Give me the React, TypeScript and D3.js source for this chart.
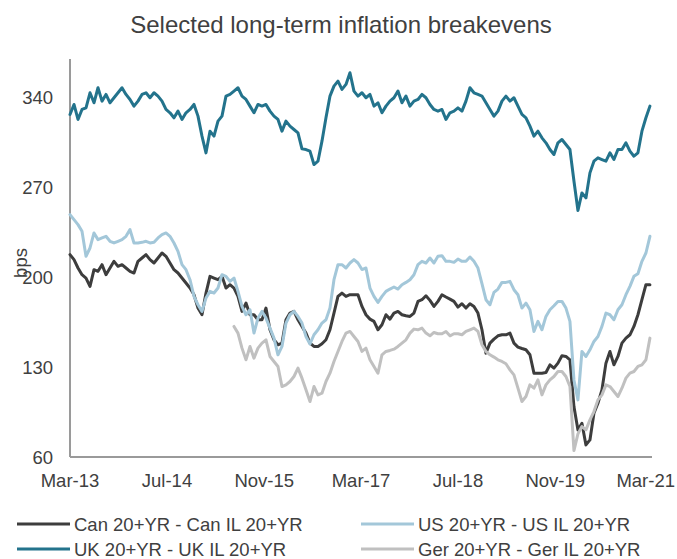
import React from 'react';
import * as d3 from 'd3';

const START = new Date(2013, 2, 1);
const END = new Date(2021, 2, 1);
const STEP_DAYS = 20.08;
const GER_START_INDEX = 41;

const xTickLabels = ['Mar-13', 'Jul-14', 'Nov-15', 'Mar-17', 'Jul-18', 'Nov-19', 'Mar-21'];
const xTickDates = [
  new Date(2013, 2, 1), new Date(2014, 6, 1), new Date(2015, 10, 1), new Date(2017, 2, 1),
  new Date(2018, 6, 1), new Date(2019, 10, 1), new Date(2021, 2, 1),
];
const yTicks = [60, 130, 200, 270, 340];

const canValues = [
  217.6, 213.7, 207.2, 202, 199.4, 192.9, 205.9, 204.6, 209.8, 202,
  207.2, 212.4, 208.5, 209.8, 207.2, 204.6, 203.3, 212.4, 215, 217.6,
  213.7, 211.1, 215, 218.9, 216.3, 211.1, 205.9, 203.3, 199.4, 195.5,
  191.6, 186.4, 176, 170.8, 187.7, 200.7, 199.4, 198.1, 200.7, 191.6,
  194.2, 191.6, 185.1, 173.4, 179.9, 170.8, 170.8, 166.9, 166.9, 176,
  159.1, 151.3, 147.4, 148.7, 166.9, 172.1, 173.4, 166.9, 161.7, 156.5,
  148.7, 146.1, 146.1, 148.2, 151.3, 159.1, 172.1, 185.1, 187.7, 185.1,
  186.4, 186.4, 186.4, 177.3, 170.8, 167.4, 165.6, 159.1, 163, 170.8,
  167.4, 172.1, 173.4, 170.8, 170, 169.5, 172.1, 181.2, 182.5, 185.6,
  182, 177.3, 181.2, 186.4, 184.6, 183, 181.2, 176.8, 179.4, 176,
  179.4, 177.3, 172.1, 159.1, 140.9, 148.7, 151.8, 154.4, 155.2, 155.2,
  156.5, 148.7, 145.6, 144.5, 143.5, 139.6, 125.3, 125.3, 125.3, 125.8,
  131.8, 129.2, 133.1, 138.8, 138.3, 135.7, 99.3, 81.1, 86.3, 69.4,
  73.3, 94.1, 101.9, 112.3, 133.1, 142.2, 131.8, 138.3, 148.7, 152.6,
  155.2, 161.7, 170.8, 182.5, 194.2, 194.2,
];

const ukValues = [
  326.8, 334.6, 322.9, 330.7, 332, 343.7, 335.9, 347.6, 337.2, 342.4,
  335.9, 339.8, 343.7, 347.6, 342.4, 338.5, 333.3, 337.2, 342.4, 343.7,
  339.8, 343.7, 341.1, 337.2, 330.7, 328.1, 324.2, 329.4, 322.9, 328.1,
  330.7, 334.6, 325.5, 309.9, 296.9, 313.8, 309.9, 321.6, 325.5, 341.1,
  342.4, 345, 347.6, 341.1, 338.5, 333.3, 328.1, 334.6, 333.3, 334.6,
  329.4, 325.5, 322.9, 313.8, 321.6, 317.7, 315.1, 312.5, 300, 299.5,
  298.2, 287.8, 290.4, 306, 324.2, 341.1, 348.9, 352.8, 346.3, 350.2,
  359.3, 345, 341.1, 343.7, 339.8, 342.4, 333.3, 335.9, 328.1, 333.3,
  337.2, 339.8, 345, 335.9, 341.1, 333.3, 337.2, 338.5, 342.4, 339.8,
  334.6, 330.7, 329.4, 330.7, 322.9, 328.1, 329.4, 332, 329.4, 337.2,
  347.6, 343.7, 342.4, 341.1, 335.9, 330.7, 325.5, 329.4, 337.2, 341.1,
  337.2, 339.8, 333.3, 326.8, 324.2, 317.7, 309.9, 313.8, 308.6, 304.7,
  299.5, 295.6, 304.7, 307.3, 303.4, 299.5, 275, 252, 265.7, 261.8,
  281.3, 290.4, 293, 291.7, 290.4, 296.9, 291.7, 299.5, 299.5, 304.7,
  298.2, 294.3, 296.9, 313.8, 324.2, 333.3,
];

const usValues = [
  248.8, 244.9, 241, 235.8, 216.3, 222.8, 234.5, 229.3, 230.6, 231.9,
  228, 226.7, 228, 229.3, 231.9, 237.1, 226.7, 226.7, 227.2, 228,
  226.7, 227.2, 230.6, 233.2, 234.5, 231.9, 226.7, 220.2, 209.8, 205.9,
  198.1, 185.1, 178.6, 173.4, 183.8, 189, 187.7, 191.6, 202, 200.7,
  196.8, 199.4, 189, 177.3, 170.8, 174.7, 156.5, 168.2, 173.4, 168.2,
  160.4, 152.6, 139.6, 146.1, 164.3, 170.8, 173.4, 169.5, 164.3, 153.9,
  148, 155.2, 159.1, 164.3, 166.9, 176, 198.1, 209.8, 209.8, 207.2,
  211.1, 213.7, 211.1, 206, 207.2, 191.6, 185.1, 180.4, 185.1, 189,
  190.8, 192.4, 190.8, 194.2, 196, 198.1, 202, 209.8, 212.4, 211.1,
  215, 211.1, 216.3, 216.8, 212.4, 212.4, 211.6, 214.2, 212.4, 212.4,
  215.8, 212.4, 207.2, 195, 182.5, 178.6, 188.2, 190.8, 196, 196,
  196.8, 190.3, 186.4, 176, 179.9, 174.7, 157.8, 165.6, 159.1, 169.5,
  174.7, 177.8, 181.2, 181.2, 176, 165.6, 120, 104.5, 142.2, 138.3,
  143.5, 150, 153.9, 161.7, 172.1, 170.8, 166.9, 174.7, 178.6, 186.4,
  192.9, 200.7, 202.8, 212.4, 218.9, 231.9,
];

const gerValues = [
  161.7, 156.5, 144.8, 135.7, 146.1, 137, 144.8, 148.7, 151.3,
  138.3, 134.4, 130.5, 114.9, 116.2, 118.8, 122.7, 129.2, 121.4, 112.3,
  103.2, 114.9, 108.4, 109.7, 118.8, 125.3, 134.4, 142.2, 150, 156.5,
  157.8, 153.9, 150, 142.2, 144.8, 135.7, 130.5, 125.3, 139.6, 142.2,
  143, 144, 146.1, 148.7, 151.3, 156.5, 159.6, 159.1, 160.4, 156.5,
  154.4, 157, 156, 156, 157.8, 154.4, 156, 156, 155.2, 157.8,
  159.1, 160.4, 157.8, 147.4, 142.2, 139.6, 137.8, 135.7, 134.4, 132.6,
  127.9, 124, 113.6, 103.2, 107.1, 116.2, 113.6, 120.1, 108.4, 116.2,
  120.1, 122.7, 126.6, 126.6, 122.7, 114.9, 65, 78, 83.7, 81.1,
  88.9, 95.4, 104.5, 108.4, 116.2, 114.9, 111, 107.1, 113.6, 121.4,
  125.3, 126.6, 130.5, 131.8, 135.7, 152.6,
];

const seriesNames = [
  'Can 20+YR - Can IL 20+YR',
  'US 20+YR - US IL 20+YR',
  'UK 20+YR - UK IL 20+YR',
  'Ger 20+YR - Ger IL 20+YR',
];
const seriesColors = ['#3d3d3d', '#a3c7d9', '#23738c', '#c0c0c0'];

const W = 677;
const H = 559;
const FONT = '"Liberation Sans", Arial, sans-serif';
const TEXT = '#404040';

function dateAt(i: number): Date {
  return new Date(START.getTime() + i * STEP_DAYS * 86400000);
}

export default function App() {
  const x = d3.scaleTime().domain([START, END]).range([70, 652]);
  const y = d3.scaleLinear().domain([60, 370]).range([457, 59]);

  const toPts = (vals: number[], offset: number) =>
    vals.map((v, k) => ({ d: dateAt(k + offset), v }));

  const series = [
    { name: seriesNames[0], color: seriesColors[0], pts: toPts(canValues, 0) },
    { name: seriesNames[1], color: seriesColors[1], pts: toPts(usValues, 0) },
    { name: seriesNames[2], color: seriesColors[2], pts: toPts(ukValues, 0) },
    { name: seriesNames[3], color: seriesColors[3], pts: toPts(gerValues, GER_START_INDEX) },
  ];

  const line = d3
    .line<{ d: Date; v: number }>()
    .x((p) => x(p.d))
    .y((p) => y(p.v));

  const legendPos = [
    { lx: 17, ly: 524 },
    { lx: 361, ly: 524 },
    { lx: 17, ly: 549 },
    { lx: 361, ly: 549 },
  ];

  return (
    <div style={{ position: 'absolute', left: 0, top: 0, width: W, height: H, background: '#fff' }}>
      <svg width={W} height={H} style={{ display: 'block', fontFamily: FONT }}>
        <rect width={W} height={H} fill="#fff" />
        <text x={341} y={33} textAnchor="middle" fontSize={24} fill={TEXT}>
          Selected long-term inflation breakevens
        </text>
        {yTicks.map((t) => (
          <text key={t} x={53} y={y(t)} dy="0.36em" textAnchor="end" fontSize={18.5} fill={TEXT}>
            {t}
          </text>
        ))}
        {xTickDates.map((d, k) => {
          const last = k === xTickDates.length - 1;
          return (
            <text
              key={k}
              x={last ? 675 : x(d)}
              y={487}
              textAnchor={last ? 'end' : 'middle'}
              fontSize={18.5}
              fill={TEXT}
            >
              {xTickLabels[k]}
            </text>
          );
        })}
        <text transform="translate(27,263) rotate(-90)" textAnchor="middle" fontSize={18.5} fill={TEXT}>
          bps
        </text>
        <line x1={x(START)} x2={x(START)} y1={y(370)} y2={y(60)} stroke="#9a9a9a" strokeWidth={2} />
        <line x1={x(START)} x2={x(END)} y1={y(60)} y2={y(60)} stroke="#9a9a9a" strokeWidth={2} />
        {series.map((s) => (
          <path
            key={s.name}
            d={line(s.pts) || ''}
            fill="none"
            stroke={s.color}
            strokeWidth={3}
            strokeLinejoin="round"
            strokeLinecap="round"
          />
        ))}
        {series.map((s, k) => (
          <g key={'lg' + k}>
            <line
              x1={legendPos[k].lx}
              x2={legendPos[k].lx + 53}
              y1={legendPos[k].ly}
              y2={legendPos[k].ly}
              stroke={s.color}
              strokeWidth={3}
            />
            <text x={legendPos[k].lx + 57} y={legendPos[k].ly} dy="0.36em" fontSize={18.5} fill={TEXT}>
              {s.name}
            </text>
          </g>
        ))}
      </svg>
    </div>
  );
}
